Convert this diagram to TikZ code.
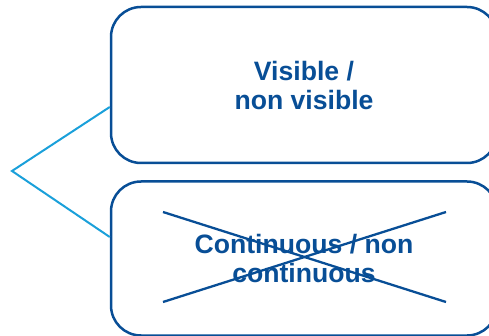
\documentclass[tikz,border=0pt]{standalone}
\usepackage{fontspec}
\setmainfont{Liberation Sans}
\usepackage{tikz}
\usetikzlibrary{positioning}
\definecolor{boxblue}{RGB}{8,78,150}
\definecolor{branchblue}{RGB}{26,160,218}

\begin{document}
\begin{tikzpicture}[x=1pt, y=1pt,
    box/.style={draw=boxblue, line width=2.5pt, rounded corners=30pt, minimum width=386pt, minimum height=156pt, align=center, text=boxblue, font=\fontsize{26.6}{29}\selectfont\bfseries},
    branch/.style={draw=branchblue, line width=2pt},
    cross/.style={draw=boxblue, line width=2.3pt}]
            \useasboundingbox (0, 0) rectangle (489, -336);

            \node [box] (Vis) at (304, -85) {Visible /\\non visible};
            \node [box, minimum height=154pt] (Cont) at (304, -258.5) {Continuous / non\\continuous};

            \coordinate (Apex) at (12, -171);
            \draw [branch] ([yshift=-22pt]Vis.west) -- (Apex) -- ([yshift=21.5pt]Cont.west);

            \draw [cross] ([shift={(-141pt, 46.5pt)}]Cont.center) -- ([shift={(142pt, -43.5pt)}]Cont.center);
            \draw [cross] ([shift={(-141pt, -43.5pt)}]Cont.center) -- ([shift={(142pt, 46.5pt)}]Cont.center);
        \end{tikzpicture}
\end{document}
